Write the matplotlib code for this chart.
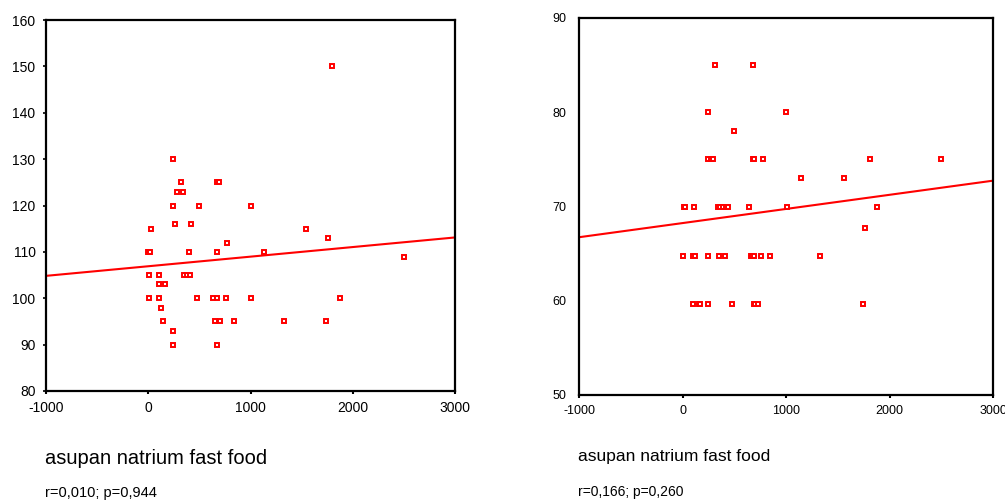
import numpy as np
import matplotlib
matplotlib.use("Agg")
import matplotlib.pyplot as plt

plt.rcParams['font.family'] = ['Liberation Sans', 'DejaVu Sans']
plt.rcParams['axes.unicode_minus'] = False

# natrium intake (x) vs systolic (left) and diastolic (right) pressure
x_sist = [1800, 241, 320, 672, 691, 280, 339, 241, 499, 1000, 261, 417, 26, 773, 0,
          10, 20, 398, 675, 1128, 1542, 1760, 2500, 7, 104, 352, 378, 404, 104, 163,
          7, 104, 479, 632, 675, 756, 1000, 1875, 124, 143, 652, 698, 835, 1324, 1741,
          241, 241, 675]
y_sist = [150, 130, 125, 125, 125, 123, 123, 120, 120, 120, 116, 116, 115, 112, 110,
          110, 110, 110, 110, 110, 115, 113, 109, 105, 105, 105, 105, 105, 103, 103,
          100, 100, 100, 100, 100, 100, 100, 100, 98, 95, 95, 95, 95, 95, 95,
          93, 90, 90]

x_dia = [318, 685, 248, 1000, 502, 248, 273, 299, 680, 692, 778, 1810, 2502, 1145, 1556,
         10, 22, 109, 341, 367, 392, 418, 440, 640, 1006, 1881, 1762,
         0, 106, 120, 248, 357, 412, 662, 675, 695, 756, 846, 1331,
         106, 158, 170, 248, 479, 688, 704, 727, 1740]
y_dia = [85, 85, 80, 80, 78, 75, 75, 75, 75, 75, 75, 75, 75, 73, 73,
         70, 70, 70, 70, 70, 70, 70, 70, 70, 70, 70, 67.7,
         64.7, 64.7, 64.7, 64.7, 64.7, 64.7, 64.7, 64.7, 64.7, 64.7, 64.7, 64.7,
         59.7, 59.7, 59.7, 59.7, 59.7, 59.7, 59.7, 59.7, 59.7]

# fit lines as drawn (intercept, slope)
fit_sist = (106.9, 0.00207)
fit_dia = (68.24, 0.0015)

x_ticks = [-1000, 0, 1000, 2000, 3000]
y_ticks_sist = [80, 90, 100, 110, 120, 130, 140, 150, 160]
y_ticks_dia = [50, 60, 70, 80, 90]

xlabel = "asupan natrium fast food"
stat_sist = "r=0,010; p=0,944"
stat_dia = "r=0,166; p=0,260"

fig = plt.figure(figsize=(10.05, 5.04), dpi=100)
ax1 = fig.add_axes([46/1005, 1-391/504, (455-46)/1005, (391-20)/504])
ax2 = fig.add_axes([579/1005, 1-395/504, (993-579)/1005, (395-18)/504])


def draw(ax, x, y, fit, yticks, fs, yticks_on):
    ax.plot(x, y, ls='none', marker='s', ms=3.0, mew=1.4, mec='#ff0000', mfc='white',
            clip_on=False, zorder=3)
    xx = np.array([x_ticks[0], x_ticks[-1]])
    ax.plot(xx, fit[0] + fit[1]*xx, color='#ff0000', lw=1.5, zorder=2)
    ax.set_xlim(x_ticks[0], x_ticks[-1])
    ax.set_ylim(yticks[0], yticks[-1])
    ax.set_xticks(x_ticks)
    ax.set_yticks(yticks)
    for s in ax.spines.values():
        s.set_linewidth(1.6)
        s.set_color('black')
    ax.tick_params(axis='x', direction='out', length=2, width=1.5, pad=5, labelsize=fs)
    if yticks_on:
        ax.tick_params(axis='y', direction='out', length=2.5, width=1.2, pad=5, labelsize=fs)
    else:
        ax.tick_params(axis='y', length=0, pad=9, labelsize=fs)


draw(ax1, x_sist, y_sist, fit_sist, y_ticks_sist, 10, True)
draw(ax2, x_dia, y_dia, fit_dia, y_ticks_dia, 9, False)

fig.text(45/1005, 1-458/504, xlabel, fontsize=14.5, va='center', ha='left')
fig.text(45/1005, 1-493/504, stat_sist, fontsize=10.5, va='center', ha='left')
fig.text(578/1005, 1-457/504, xlabel, fontsize=12.5, va='center', ha='left')
fig.text(578/1005, 1-492/504, stat_dia, fontsize=10, va='center', ha='left')

fig.savefig("out.png", dpi=100)
